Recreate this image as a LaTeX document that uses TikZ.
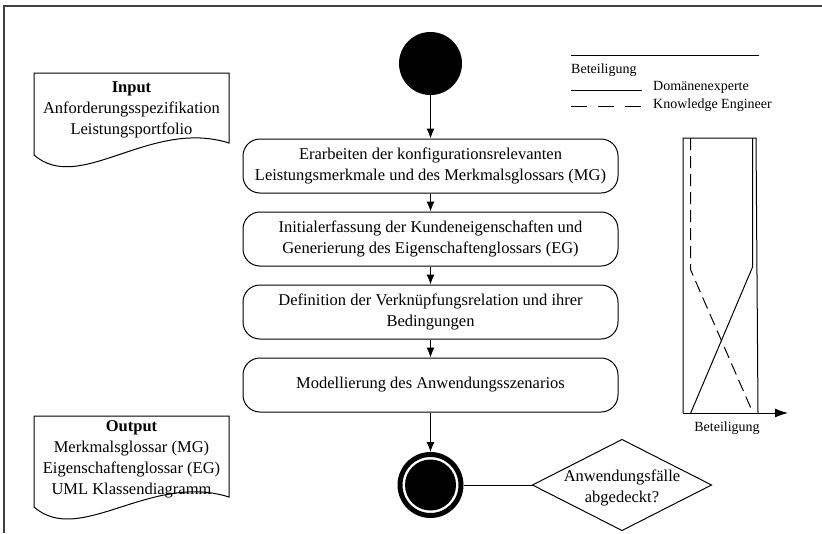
\documentclass[tikz,border=0pt]{standalone}
\usepackage{fontspec}
\setmainfont{Liberation Serif}
\usetikzlibrary{arrows.meta}
\begin{document}
\begin{tikzpicture}[x=1pt,y=-1pt,
  every node/.style={font=\fontsize{16.5}{21}\selectfont},
  small/.style={font=\fontsize{14}{17}\selectfont},
  stepbox/.style={draw, line width=1pt, rounded corners=17pt, minimum width=375pt,
    minimum height=54pt, inner sep=0pt, align=center},
  flow/.style={line width=1pt, -{Latex[length=10pt,width=8pt]}},
  doc/.style={line width=1pt},
  frameline/.style={line width=1.3pt, black!75},
  dashline/.style={line width=1pt, dash pattern=on 12pt off 6pt},
]
\useasboundingbox (0,0) rectangle (822,533);

% outer frame (top and left edges)
\draw[frameline] (822,6) -- (4,6) -- (4,533);

% start and end states
\node (start) [circle, fill=black, minimum size=63pt, inner sep=0pt] at (430.5,63.5) {};
\node (end) [circle, draw, line width=5pt, fill=white, minimum size=61pt, inner sep=0pt] at (430.5,485) {};
\node (endcore) [circle, fill=black, minimum size=51pt, inner sep=0pt] at (end.center) {};

% process steps
\node (b1) [stepbox] at (430.5,166) {Erarbeiten der konfigurationsrelevanten\\Leistungsmerkmale und des Merkmalsglossars (MG)};
\node (b2) [stepbox] at (430.5,239) {Initialerfassung der Kundeneigenschaften und\\Generierung des Eigenschaftenglossars (EG)};
\node (b3) [stepbox] at (430.5,312) {Definition der Verknüpfungsrelation und ihrer\\Bedingungen};
\node (b4) [stepbox] at (430.5,385) {Modellierung des Anwendungsszenarios};

\draw[flow] (start) -- (b1);
\draw[flow] (b1) -- (b2);
\draw[flow] (b2) -- (b3);
\draw[flow] (b3) -- (b4);
\draw[flow] (b4) -- (end);

% decision
\node (q) [align=center] at (622,487.5) {Anwendungsfälle\\abgedeckt?};
\coordinate (qW) at (532.5,485);
\coordinate (qN) at (622,439.5);
\coordinate (qE) at (711.5,485);
\coordinate (qS) at (622,530.5);
\draw[line width=1pt] (qW) -- (qN) -- (qE) -- (qS) -- cycle;
\draw[line width=1pt] (end) -- (qW);

% input document
\draw[doc] (34,155) -- (34,73) -- (229,73) -- (229,143)
  .. controls (150,118) and (80,195) .. (34,155);
\node (input) [align=center] at (131.5,110) {\textbf{Input}\\Anforderungsspezifikation\\Leistungsportfolio};

% output document
\draw[doc] (34,507) -- (34,416) -- (229,416) -- (229,497)
  .. controls (150,472) and (80,547) .. (34,507);
\node (output) [align=center] at (131.5,459.5) {\textbf{Output}\\Merkmalsglossar (MG)\\Eigenschaftenglossar (EG)\\UML Klassendiagramm};

% legend
\draw[line width=1pt] (571,55) -- (759,55);
\node (legtitle) [small, anchor=west, inner sep=0pt] at (571,70) {Beteiligung};
\coordinate (l1a) at (571,90);
\coordinate (l1b) at (642,90);
\coordinate (l2a) at (571,106);
\coordinate (l2b) at (642,106);
\draw[line width=1pt] (l1a) -- (l1b);
\draw[line width=1pt, dash pattern=on 16pt off 11pt] (l2a) -- (l2b);
\node (leg1) [small, anchor=west, inner sep=0pt] at (653,87) {Domänenexperte};
\node (leg2) [small, anchor=west, inner sep=0pt] at (653,105) {Knowledge Engineer};

% participation chart
\coordinate (o) at (683,413);
\coordinate (ax) at (788,413);
\draw[line width=1pt] (o) -- (683,138) -- (756,138) -- (758,413);
\draw[line width=1pt, -{Latex[length=13pt,width=9pt]}] (o) -- (ax);
\draw[dashline] (690.7,138) -- (690.7,270) -- (753,413);
\draw[line width=1pt] (752.7,138) -- (752.7,266.7) -- (690.7,413);
\node (axlabel) [small] at (727,428) {Beteiligung};
\end{tikzpicture}
\end{document}
